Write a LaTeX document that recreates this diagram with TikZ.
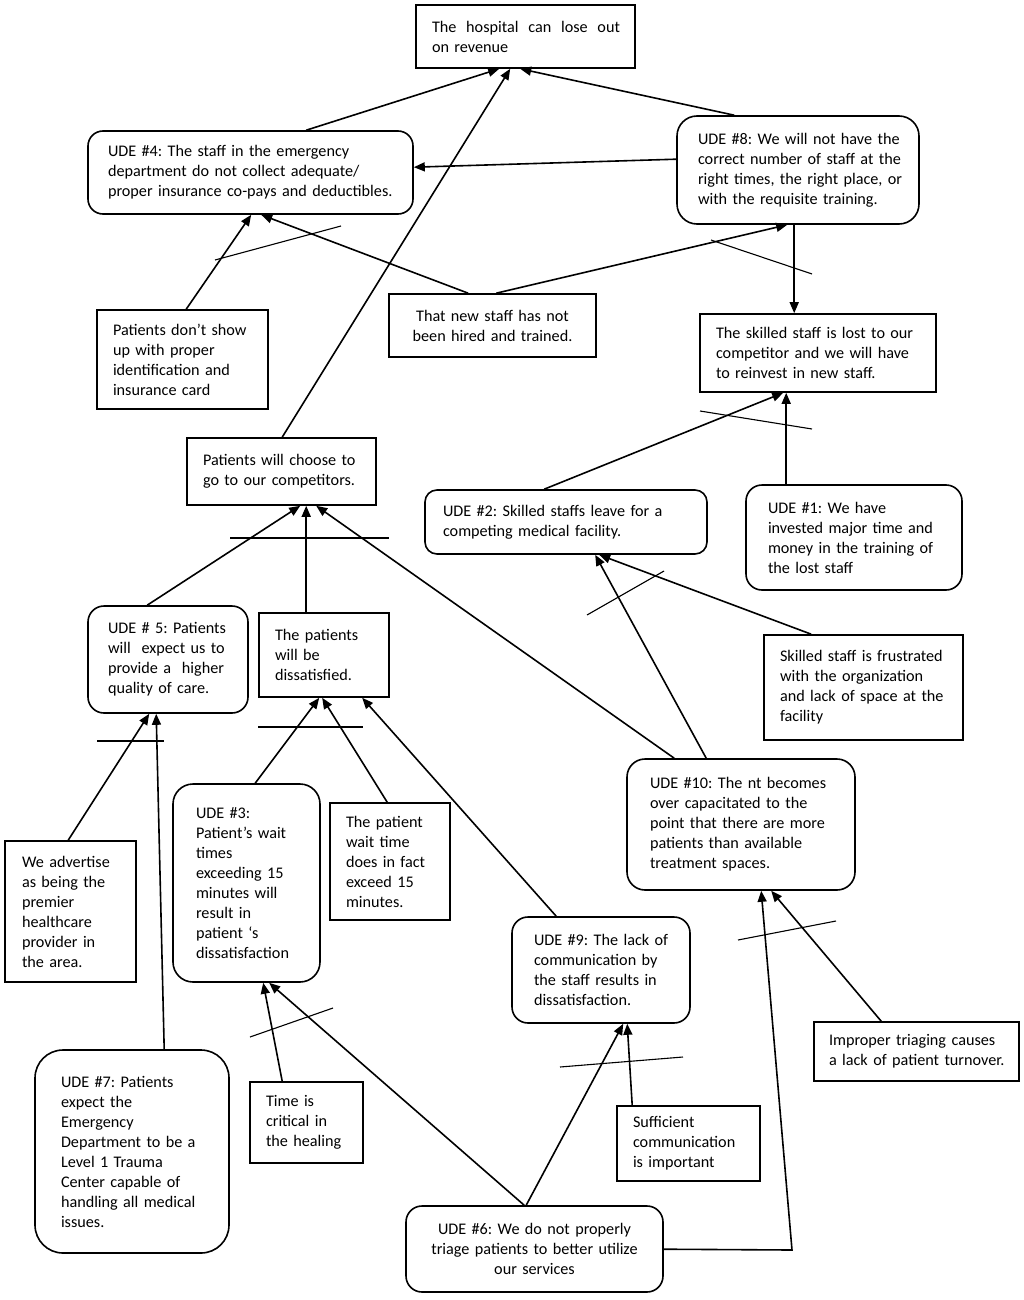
\documentclass[tikz,border=0pt]{standalone}
\usepackage{fontspec}
\setmainfont{Carlito}
\usetikzlibrary{arrows.meta,calc}
\tikzset{
  base/.style={draw, line width=1.6pt, inner sep=0pt, align=left,
    font=\fontsize{16.2}{20}\selectfont,
    execute at begin node={\frenchspacing\rightskip=0pt plus 1fil minus 200pt\relax}},
  sq/.style={base, rectangle},
  rr/.style={base, rectangle, rounded corners=#1},
  rr/.default=15pt,
  ctr/.style={execute at begin node={\frenchspacing\leftskip=0pt plus 1fil\rightskip=0pt plus 1fil minus 200pt\parfillskip=0pt\relax}},
  arr/.style={line width=1.6pt, -{Triangle[length=11pt,width=9pt]}},
  crossbar/.style={line width=1.1pt},
}
\begin{document}
\begin{tikzpicture}[x=1pt,y=-1pt]
\useasboundingbox (0,0) rectangle (1024,1300);
\fill[white] (0,0) rectangle (1024,1300);

% ---------- nodes ----------
\node[sq, minimum width=219pt, minimum height=63pt, text width=187pt] (hosp) at (525.5,36.5)
  {\hbox to 188pt{The\hfill hospital\hfill can\hfill lose\hfill out}\\on revenue};
\node[rr, minimum width=325pt, minimum height=83pt, text width=285pt] (ude4) at (250.5,172.5)
  {UDE \#4: The staff in the emergency\\department do not collect adequate/\\proper insurance co-pays and deductibles.};
\node[rr=20pt, minimum width=242pt, minimum height=108pt, text width=200pt] (ude8) at (798,170)
  {UDE \#8: We will not have the\\correct number of staff at the\\right times, the right place, or\\with the requisite training.};
\node[sq, minimum width=236pt, minimum height=78pt, text width=204pt] (lost) at (818,353)
  {The skilled staff is lost to our\\competitor and we will have\\to reinvest in new staff.};
\node[sq, minimum width=171pt, minimum height=99pt, text width=139pt] (noshow) at (182.5,359.5)
  {Patients don’t show\\up with proper\\identification and\\insurance card};
\node[sq, ctr, minimum width=207pt, minimum height=63pt, text width=175pt] (newstaff) at (492.5,325.5)
  {That new staff has not\\been hired and trained.};
\node[sq, minimum width=189pt, minimum height=67pt, text width=157pt] (choose) at (281.5,471.5)
  {Patients will choose to\\go to our competitors.};
\node[rr=12pt, minimum width=282pt, minimum height=64pt, text width=246pt] (ude2) at (566,522)
  {UDE \#2: Skilled staffs leave for a\\competing medical facility.};
\node[rr=16pt, minimum width=216pt, minimum height=105pt, text width=172pt] (ude1) at (854,537.5)
  {UDE \#1: We have\\invested major time and\\money in the training of\\the lost staff};
\node[rr=16pt, minimum width=160pt, minimum height=107pt, text width=120pt] (ude5) at (168,659.5)
  {UDE \# 5: Patients\\will\ \ expect us to\\provide a\ \ higher\\quality of care.};
\node[sq, minimum width=130pt, minimum height=84pt, text width=98pt] (dissat) at (324,655)
  {The patients\\will be\\dissatisfied.};
\node[sq, minimum width=199pt, minimum height=105pt, text width=167pt] (frustr) at (863.5,687.5)
  {Skilled staff is frustrated\\with the organization\\and lack of space at the\\facility};
\node[rr=18pt, minimum width=228pt, minimum height=131pt, text width=182pt] (ude10) at (741,824.5)
  {UDE \#10: The nt becomes\\over capacitated to the\\point that there are more\\patients than available\\treatment spaces.};
\node[sq, minimum width=131pt, minimum height=141pt, text width=97pt] (advert) at (70.5,911.5)
  {We advertise\\as being the\\premier\\healthcare\\provider in\\the area.};
\node[rr=20pt, minimum width=147pt, minimum height=198pt, text width=101pt] (ude3) at (246.5,883)
  {UDE \#3:\\Patient’s wait\\times\\exceeding 15\\minutes will\\result in\\patient ‘s\\dissatisfaction};
\node[sq, minimum width=120pt, minimum height=117pt, text width=88pt] (waitfact) at (390,861.5)
  {The patient\\wait time\\does in fact\\exceed 15\\minutes.};
\node[rr=16pt, minimum width=178pt, minimum height=106pt, text width=134pt] (ude9) at (601,970)
  {UDE \#9: The lack of\\communication by\\the staff results in\\dissatisfaction.};
\node[sq, minimum width=205pt, minimum height=59pt, text width=175pt] (improper) at (916.5,1051.5)
  {Improper triaging causes\\a lack of patient turnover.};
\node[rr=28pt, minimum width=194pt, minimum height=203pt, text width=142pt] (ude7) at (132,1151.5)
  {UDE \#7: Patients\\expect the\\Emergency\\Department to be a\\Level 1 Trauma\\Center capable of\\handling all medical\\issues.};
\node[sq, minimum width=113pt, minimum height=81pt, text width=81pt] (time) at (306.5,1122.5)
  {Time is\\critical in\\the healing};
\node[sq, minimum width=143pt, minimum height=75pt, text width=111pt] (suff) at (688.5,1143.5)
  {Sufficient\\communication\\is important};
\node[rr=16pt, ctr, minimum width=257pt, minimum height=86pt, text width=225pt] (ude6) at (534.5,1249)
  {UDE \#6: We do not properly\\triage patients to better utilize\\our services};

\coordinate (bend) at (792,1250);

% ---------- connectors ----------
\draw[arr] ($(ude4.north west)+(219,0)$) -- ($(hosp.south west)+(84,0)$);
\draw[arr] ($(choose.north west)+(96,0)$) -- ($(hosp.south west)+(95,0)$);
\draw[arr] ($(ude8.north west)+(58,0)$) -- ($(hosp.south west)+(105,0)$);
\draw[arr] ($(ude8.north west)+(0,44)$) -- ($(ude4.north east)+(0,37)$);
\draw[arr] ($(ude8.south west)+(118,0)$) -- ($(lost.north west)+(95,0)$);
\draw[arr] ($(newstaff.north west)+(80,0)$) -- ($(ude4.south west)+(174,0)$);
\draw[arr] ($(newstaff.north west)+(108,0)$) -- ($(ude8.south west)+(111,0)$);
\draw[arr] ($(noshow.north west)+(90,0)$) -- ($(ude4.south west)+(164,0)$);
\draw[arr] ($(ude2.north west)+(120,0)$) -- ($(lost.south west)+(84,0)$);
\draw[arr] ($(ude1.north west)+(41,0)$) -- ($(lost.south west)+(87,0)$);
\draw[arr] ($(frustr.north west)+(48,0)$) -- ($(ude2.south west)+(175,0)$);
\draw[arr] ($(ude10.north west)+(80,0)$) -- ($(ude2.south west)+(171,0)$);
\draw[arr] ($(ude10.north west)+(48,0)$) -- ($(choose.south west)+(130,0)$);
\draw[arr] ($(ude5.north west)+(60,0)$) -- ($(choose.south west)+(114,0)$);
\draw[arr] ($(dissat.north west)+(48,0)$) -- ($(choose.south west)+(120,0)$);
\draw[arr] ($(ude3.north west)+(83,0)$) -- ($(dissat.south west)+(61,0)$);
\draw[arr] ($(waitfact.north west)+(58,0)$) -- ($(dissat.south west)+(64,0)$);
\draw[arr] ($(ude9.north west)+(45,0)$) -- ($(dissat.south west)+(104,0)$);
\draw[arr] ($(advert.north west)+(64,0)$) -- ($(ude5.south west)+(62,0)$);
\draw[arr] ($(ude7.north west)+(130,0)$) -- ($(ude5.south west)+(69,0)$);
\draw[arr] ($(time.north west)+(33,0)$) -- ($(ude3.south west)+(91,0)$);
\draw[arr] ($(ude6.north west)+(119,0)$) -- ($(ude3.south west)+(97,0)$);
\draw[arr] ($(ude6.north west)+(121,0)$) -- ($(ude9.south west)+(112,0)$);
\draw[arr] ($(suff.north west)+(16,0)$) -- ($(ude9.south west)+(116,0)$);
\draw[arr] ($(ude6.north east)+(0,44)$) -- (bend) -- ($(ude10.south west)+(135,0)$);
\draw[arr] ($(improper.north west)+(68,0)$) -- ($(ude10.south west)+(145,0)$);

% ---------- crossbars ----------
\draw[crossbar] (215,260) -- (341,226);
\draw[crossbar] (711,240) -- (812,274);
\draw[crossbar] (700,411) -- (812,429);
\draw[crossbar] (587,615) -- (664,571);
\draw[crossbar] (230,538) -- (389,538);
\draw[crossbar] (97,741) -- (164,741);
\draw[crossbar] (258,727) -- (363,727);
\draw[crossbar] (250,1037) -- (333,1008);
\draw[crossbar] (560,1067) -- (683,1057);
\draw[crossbar] (738,940) -- (836,921);
\end{tikzpicture}
\end{document}
